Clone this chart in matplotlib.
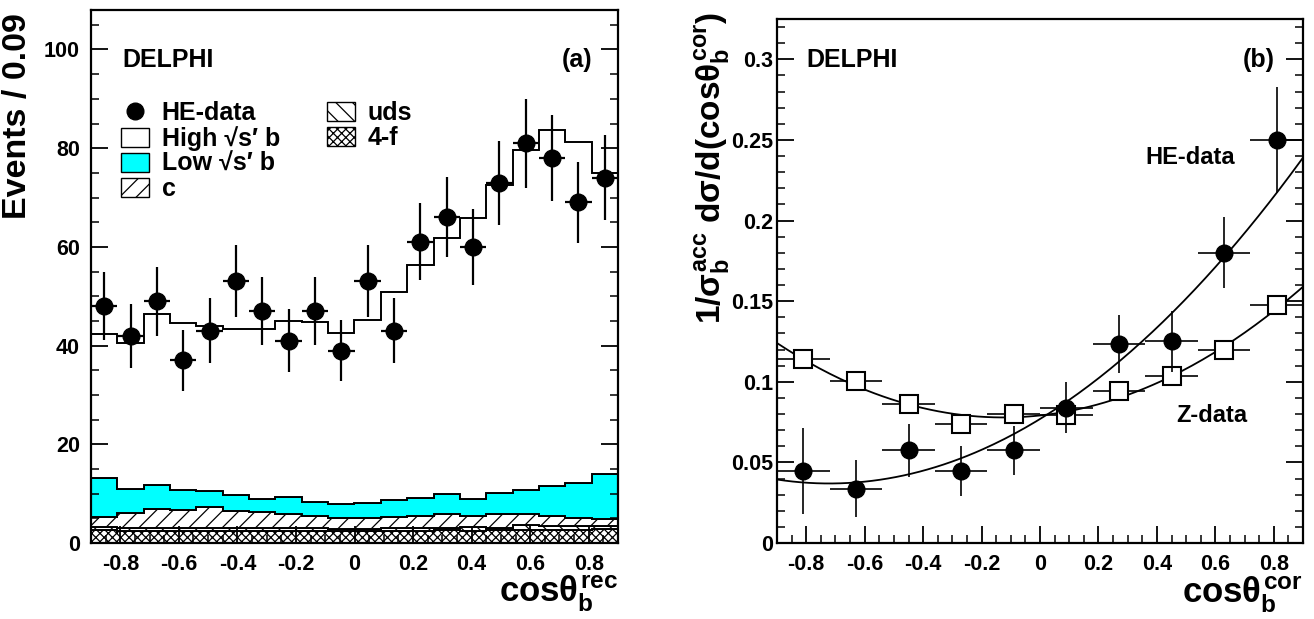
import matplotlib

matplotlib.use("Agg")
import matplotlib.pyplot as plt
import numpy as np
from matplotlib.lines import Line2D
from matplotlib.patches import Patch

plt.rcParams["font.family"] = ["Liberation Sans", "DejaVu Sans"]
plt.rcParams["font.weight"] = "bold"
plt.rcParams["mathtext.fontset"] = "custom"
plt.rcParams["mathtext.rm"] = "Liberation Sans:bold"
plt.rcParams["mathtext.it"] = "Liberation Sans:bold"
plt.rcParams["mathtext.bf"] = "Liberation Sans:bold"
plt.rcParams["hatch.linewidth"] = 0.9

# ---- panel (a): reconstructed cos(theta_b), 20 bins of 0.09 ----
BIN_WIDTH_A = 0.09
HE_DATA_A = [48, 42, 49, 37, 43, 53, 47, 41, 47, 39,
             53, 43, 61, 66, 60, 73, 81, 78, 69, 74]
HE_ERR_A = [6.9, 6.5, 7.0, 6.1, 6.6, 7.3, 6.9, 6.4, 6.9, 6.2,
            7.3, 6.6, 7.8, 8.1, 7.7, 8.5, 9.0, 8.8, 8.3, 8.6]

# MC components, stacked bottom -> top
MC_4F = [2.6, 2.5, 2.4, 2.5, 2.4, 2.4, 2.4, 2.5, 2.4, 2.4,
         2.4, 2.5, 2.5, 2.6, 2.5, 2.6, 2.6, 2.6, 2.7, 2.8]
MC_UDS = [0.7, 0.5, 0.6, 0.6, 0.7, 0.6, 0.6, 0.6, 0.6, 0.5,
          0.5, 0.5, 0.5, 0.5, 0.7, 0.5, 1.0, 0.9, 0.7, 0.7]
MC_C = [2.0, 3.0, 3.9, 3.6, 4.1, 3.5, 3.2, 2.8, 2.5, 2.1,
        2.1, 2.2, 2.5, 2.8, 2.3, 2.7, 2.2, 2.0, 1.6, 1.3]
MC_LOW_B = [7.9, 5.0, 4.9, 4.0, 3.3, 3.3, 2.7, 3.5, 2.9, 2.9,
            3.2, 3.5, 3.7, 4.1, 3.4, 4.3, 5.0, 6.0, 7.2, 9.2]
MC_HIGH_B = [29.1, 29.5, 34.7, 33.8, 33.5, 33.5, 34.4, 35.5, 36.3, 34.6,
             37.0, 42.1, 47.2, 51.7, 57.0, 62.5, 68.9, 72.1, 69.1, 61.0]

# ---- panel (b): corrected cos(theta_b), 10 bins of 0.18 ----
BIN_WIDTH_B = 0.18
HE_DATA_B = [0.0445, 0.0338, 0.0575, 0.0445, 0.0575,
             0.0840, 0.1235, 0.1250, 0.1800, 0.2500]
HE_ERR_B = [0.0266, 0.0174, 0.0163, 0.0155, 0.0152,
            0.0160, 0.0180, 0.0190, 0.0220, 0.0330]
Z_DATA_B = [0.1141, 0.1007, 0.0863, 0.0739, 0.0800,
            0.0795, 0.0945, 0.1035, 0.1200, 0.1475]
Z_ERR_B = [0.002, 0.002, 0.002, 0.002, 0.002,
           0.002, 0.002, 0.002, 0.002, 0.003]

# fitted parabolas p0 + p1*x + p2*x^2
HE_FIT = [0.0769, 0.1109, 0.0769]
Z_FIT = [0.0791, 0.0194, 0.0770]

CYAN = "#00ffff"
HATCH_C = "//"
HATCH_UDS = "\\\\"
HATCH_4F = "xxxx"


def style_axes(ax, ymajor, yminor, ypad):
    ax.set_xlim(-0.9, 0.9)
    ax.set_xticks([-0.8, -0.6, -0.4, -0.2, 0, 0.2, 0.4, 0.6, 0.8])
    ax.set_xticklabels(["-0.8", "-0.6", "-0.4", "-0.2", "0", "0.2", "0.4", "0.6", "0.8"])
    ax.xaxis.set_minor_locator(matplotlib.ticker.MultipleLocator(0.05))
    ax.yaxis.set_major_locator(matplotlib.ticker.MultipleLocator(ymajor))
    ax.yaxis.set_minor_locator(matplotlib.ticker.MultipleLocator(yminor))
    ax.tick_params(which="both", direction="in", left=True, right=True,
                   top=False, bottom=True, labelsize=15.5)
    ax.tick_params(axis="x", pad=8)
    ax.tick_params(axis="y", pad=ypad)
    ax.tick_params(which="major", length=12, width=1.3)
    ax.tick_params(which="minor", length=6, width=1.1)
    for spine in ax.spines.values():
        spine.set_linewidth(1.6)


def bold_ticklabels(ax):
    for lab in ax.get_xticklabels() + ax.get_yticklabels():
        lab.set_fontweight("bold")


def draw_panel_a(ax):
    n = len(HE_DATA_A)
    edges = -0.9 + BIN_WIDTH_A * np.arange(n + 1)
    centers = edges[:-1] + BIN_WIDTH_A / 2

    layers = [
        (MC_4F, "white", HATCH_4F),
        (MC_UDS, "white", HATCH_UDS),
        (MC_C, "white", HATCH_C),
        (MC_LOW_B, CYAN, None),
        (MC_HIGH_B, "white", None),
    ]
    base = np.zeros(n)
    for values, face, hatch in layers:
        top = base + np.asarray(values)
        ax.stairs(top, edges, baseline=base, fill=True, facecolor=face,
                  edgecolor="black", hatch=hatch, linewidth=1.4)
        base = top

    ax.errorbar(centers, HE_DATA_A, yerr=HE_ERR_A, xerr=BIN_WIDTH_A / 2,
                fmt="o", color="black", ms=12, elinewidth=1.6, capsize=0, zorder=5)

    ax.set_ylim(0, 108)
    style_axes(ax, 20, 5, ypad=8)
    bold_ticklabels(ax)
    ax.set_ylabel("Events / 0.09", fontsize=24.5, fontweight="bold", loc="top")
    ax.yaxis.set_label_coords(-0.110, 0.995)
    ax.set_xlabel(r"cos$\theta_b^{rec}$", fontsize=25, fontweight="bold", loc="right")
    ax.xaxis.set_label_coords(1.0, -0.058)
    ax.xaxis.label.set_va("top")

    ax.text(0.059, 0.906, "DELPHI", transform=ax.transAxes, fontsize=18,
            fontweight="bold", va="center", ha="left")
    ax.text(0.951, 0.906, "(a)", transform=ax.transAxes, fontsize=18,
            fontweight="bold", va="center", ha="right")

    blank = Line2D([], [], ls="none")
    handles = [
        Line2D([], [], marker="o", ls="none", color="black", ms=12),
        Patch(facecolor="white", edgecolor="black"),
        Patch(facecolor=CYAN, edgecolor="black"),
        Patch(facecolor="white", edgecolor="black", hatch=HATCH_C),
        Patch(facecolor="white", edgecolor="black", hatch=HATCH_UDS),
        Patch(facecolor="white", edgecolor="black", hatch=HATCH_4F),
        blank, blank,
    ]
    labels = ["HE-data", "High \u221as\u2032 b", "Low \u221as\u2032 b", "c",
              "uds", "4-f", "", ""]
    ax.legend(handles, labels, ncol=2, loc="upper left",
              bbox_to_anchor=(0.057, 0.829), frameon=False,
              handlelength=1.12, handleheight=0.8, handletextpad=0.5,
              labelspacing=0.04, columnspacing=1.9, borderpad=0, borderaxespad=0,
              prop={"weight": "bold", "size": 18})


def draw_panel_b(ax):
    n = len(HE_DATA_B)
    centers = -0.9 + BIN_WIDTH_B * (np.arange(n) + 0.5)

    xs = np.linspace(-0.9, 0.9, 200)
    for coef in (HE_FIT, Z_FIT):
        ax.plot(xs, np.polynomial.polynomial.polyval(xs, coef), color="black", lw=1.3)

    ax.errorbar(centers, Z_DATA_B, yerr=Z_ERR_B, xerr=BIN_WIDTH_B / 2,
                fmt="s", mfc="white", mec="black", mew=1.5, color="black",
                ms=12.5, elinewidth=1.2, capsize=0, zorder=4)
    ax.errorbar(centers, HE_DATA_B, yerr=HE_ERR_B, xerr=BIN_WIDTH_B / 2,
                fmt="o", color="black", ms=12, elinewidth=1.2, capsize=0, zorder=5)

    ax.set_ylim(0, 0.325)
    style_axes(ax, 0.05, 0.01, ypad=3)
    ax.set_yticks([0, 0.05, 0.1, 0.15, 0.2, 0.25, 0.3])
    ax.set_yticklabels(["0", "0.05", "0.1", "0.15", "0.2", "0.25", "0.3"])
    bold_ticklabels(ax)
    ax.set_ylabel(r"1/$\sigma_b^{acc}$ d$\sigma$/d(cos$\theta_b^{cor}$)", fontsize=24,
                  fontweight="bold", loc="top")
    ax.yaxis.set_label_coords(-0.086, 1.013)
    ax.set_xlabel(r"cos$\theta_b^{cor}$", fontsize=25, fontweight="bold", loc="right")
    ax.xaxis.set_label_coords(1.0, -0.060)
    ax.xaxis.label.set_va("top")

    ax.text(0.055, 0.922, "DELPHI", transform=ax.transAxes, fontsize=18,
            fontweight="bold", va="center", ha="left")
    ax.text(0.947, 0.922, "(b)", transform=ax.transAxes, fontsize=18,
            fontweight="bold", va="center", ha="right")
    ax.text(0.513, 0.239, "HE-data", fontsize=17, fontweight="bold", ha="center", va="center")
    ax.text(0.588, 0.079, "Z-data", fontsize=17, fontweight="bold", ha="center", va="center")


def main():
    fig = plt.figure(figsize=(13.14, 6.19), dpi=100)
    ax_a = fig.add_axes([91 / 1314, 76 / 619, 527 / 1314, 533 / 619])
    ax_b = fig.add_axes([777 / 1314, 76 / 619, 526 / 1314, 524 / 619])
    draw_panel_a(ax_a)
    draw_panel_b(ax_b)
    fig.savefig("out.png", dpi=100)


if __name__ == "__main__":
    main()
